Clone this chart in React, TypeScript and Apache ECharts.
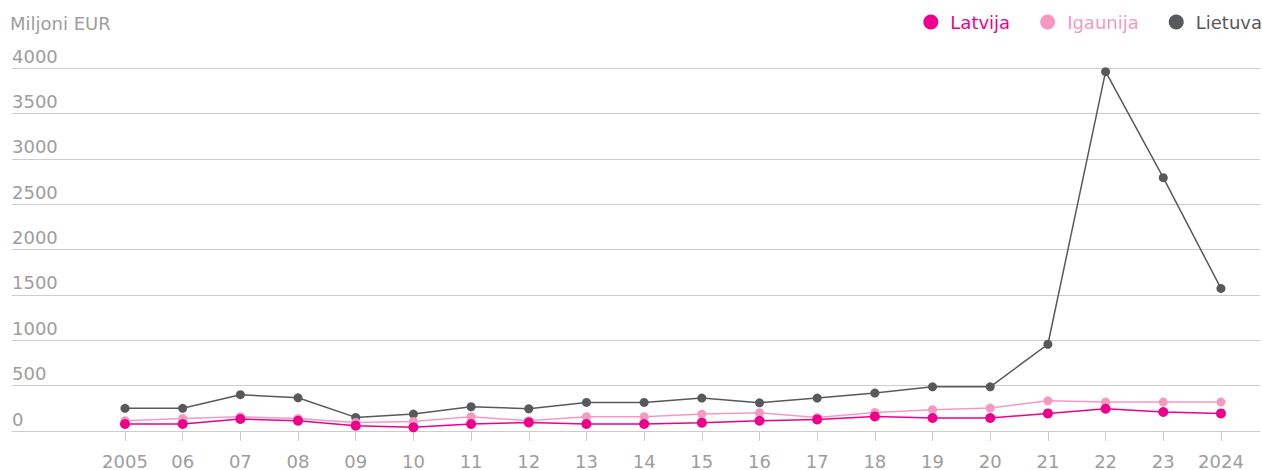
import React, { useEffect, useRef } from "react";
import * as echarts from "echarts";

const years = ["2005", "06", "07", "08", "09", "10", "11", "12", "13", "14", "15", "16", "17", "18", "19", "20", "21", "22", "23", "2024"];
const latvija = [77, 77, 132, 113, 59, 40, 77, 95, 77, 77, 92, 113, 128, 161, 143, 143, 194, 245, 209, 194];
const igaunija = [113, 139, 157, 139, 95, 106, 157, 113, 157, 157, 187, 201, 150, 205, 234, 253, 333, 319, 319, 319];
const lietuva = [250, 250, 400, 366, 150, 187, 267, 245, 315, 315, 363, 311, 363, 418, 487, 487, 956, 3960, 2791, 1571];
const yTicks = [0, 500, 1000, 1500, 2000, 2500, 3000, 3500, 4000];

const colors = { Latvija: "#ec008c", Igaunija: "#f49ac1", Lietuva: "#58595b" };
const FONT = "'DejaVu Sans', sans-serif";
const GRAY = "#9d9d9d";

export default function App() {
  const ref = useRef<HTMLDivElement>(null);
  useEffect(() => {
    if (!ref.current) return;
    const chart = echarts.init(ref.current, undefined, { renderer: "svg" });
    const idx = years.map((_, i) => i);
    const mk = (name: string, vals: number[], size: number, z: number) => ({
      name,
      type: "line",
      data: vals.map((v, i) => [i, v]),
      symbol: "circle",
      symbolSize: size,
      z,
      itemStyle: { color: colors[name as keyof typeof colors] },
      lineStyle: { width: 1.5, color: colors[name as keyof typeof colors] },
    });
    chart.setOption({
      animation: false,
      textStyle: { fontFamily: FONT },
      title: {
        text: "Miljoni EUR",
        left: 5,
        top: 9,
        textStyle: { fontSize: 18, fontWeight: "normal", color: GRAY, fontFamily: FONT },
      },
      legend: {
        right: 0,
        top: 13,
        padding: 0,
        icon: "circle",
        itemWidth: 15,
        itemHeight: 15,
        itemGap: 30,
        textStyle: { fontSize: 18, fontFamily: FONT, padding: [0, 0, 0, 7] },
        data: [
          { name: "Latvija", textStyle: { color: colors.Latvija } },
          { name: "Igaunija", textStyle: { color: colors.Igaunija } },
          { name: "Lietuva", textStyle: { color: colors.Lietuva } },
        ],
      },
      grid: { left: 12, right: 2, top: 68, bottom: 38, containLabel: false },
      xAxis: {
        type: "value",
        min: -1.959,
        max: 19.677,
        splitLine: { show: false },
        axisLine: { show: true, lineStyle: { color: "#ccc" } },
        axisTick: { show: true, length: 10, lineStyle: { color: "#ccc" }, customValues: idx },
        axisLabel: {
          customValues: idx,
          margin: 21,
          fontSize: 18,
          color: GRAY,
          fontFamily: FONT,
          formatter: (v: number) => years[Math.round(v)] ?? "",
        },
      },
      yAxis: {
        type: "value",
        min: 0,
        max: 4000,
        interval: 500,
        axisLine: { show: false },
        axisTick: { show: false },
        splitLine: { lineStyle: { color: "#ccc" } },
        axisLabel: {
          inside: true,
          margin: 0,
          align: "left",
          verticalAlign: "bottom",
          padding: [0, 0, 3, 0],
          fontSize: 18,
          color: GRAY,
          fontFamily: FONT,
          formatter: (v: number) => (yTicks.includes(v) ? String(v) : ""),
        },
      },
      series: [
        mk("Lietuva", lietuva, 9, 2),
        mk("Igaunija", igaunija, 9, 3),
        mk("Latvija", latvija, 10, 4),
      ],
    });
    return () => chart.dispose();
  }, []);
  return <div ref={ref} style={{ position: "absolute", left: 0, top: 0, width: 1262, height: 470 }} />;
}
